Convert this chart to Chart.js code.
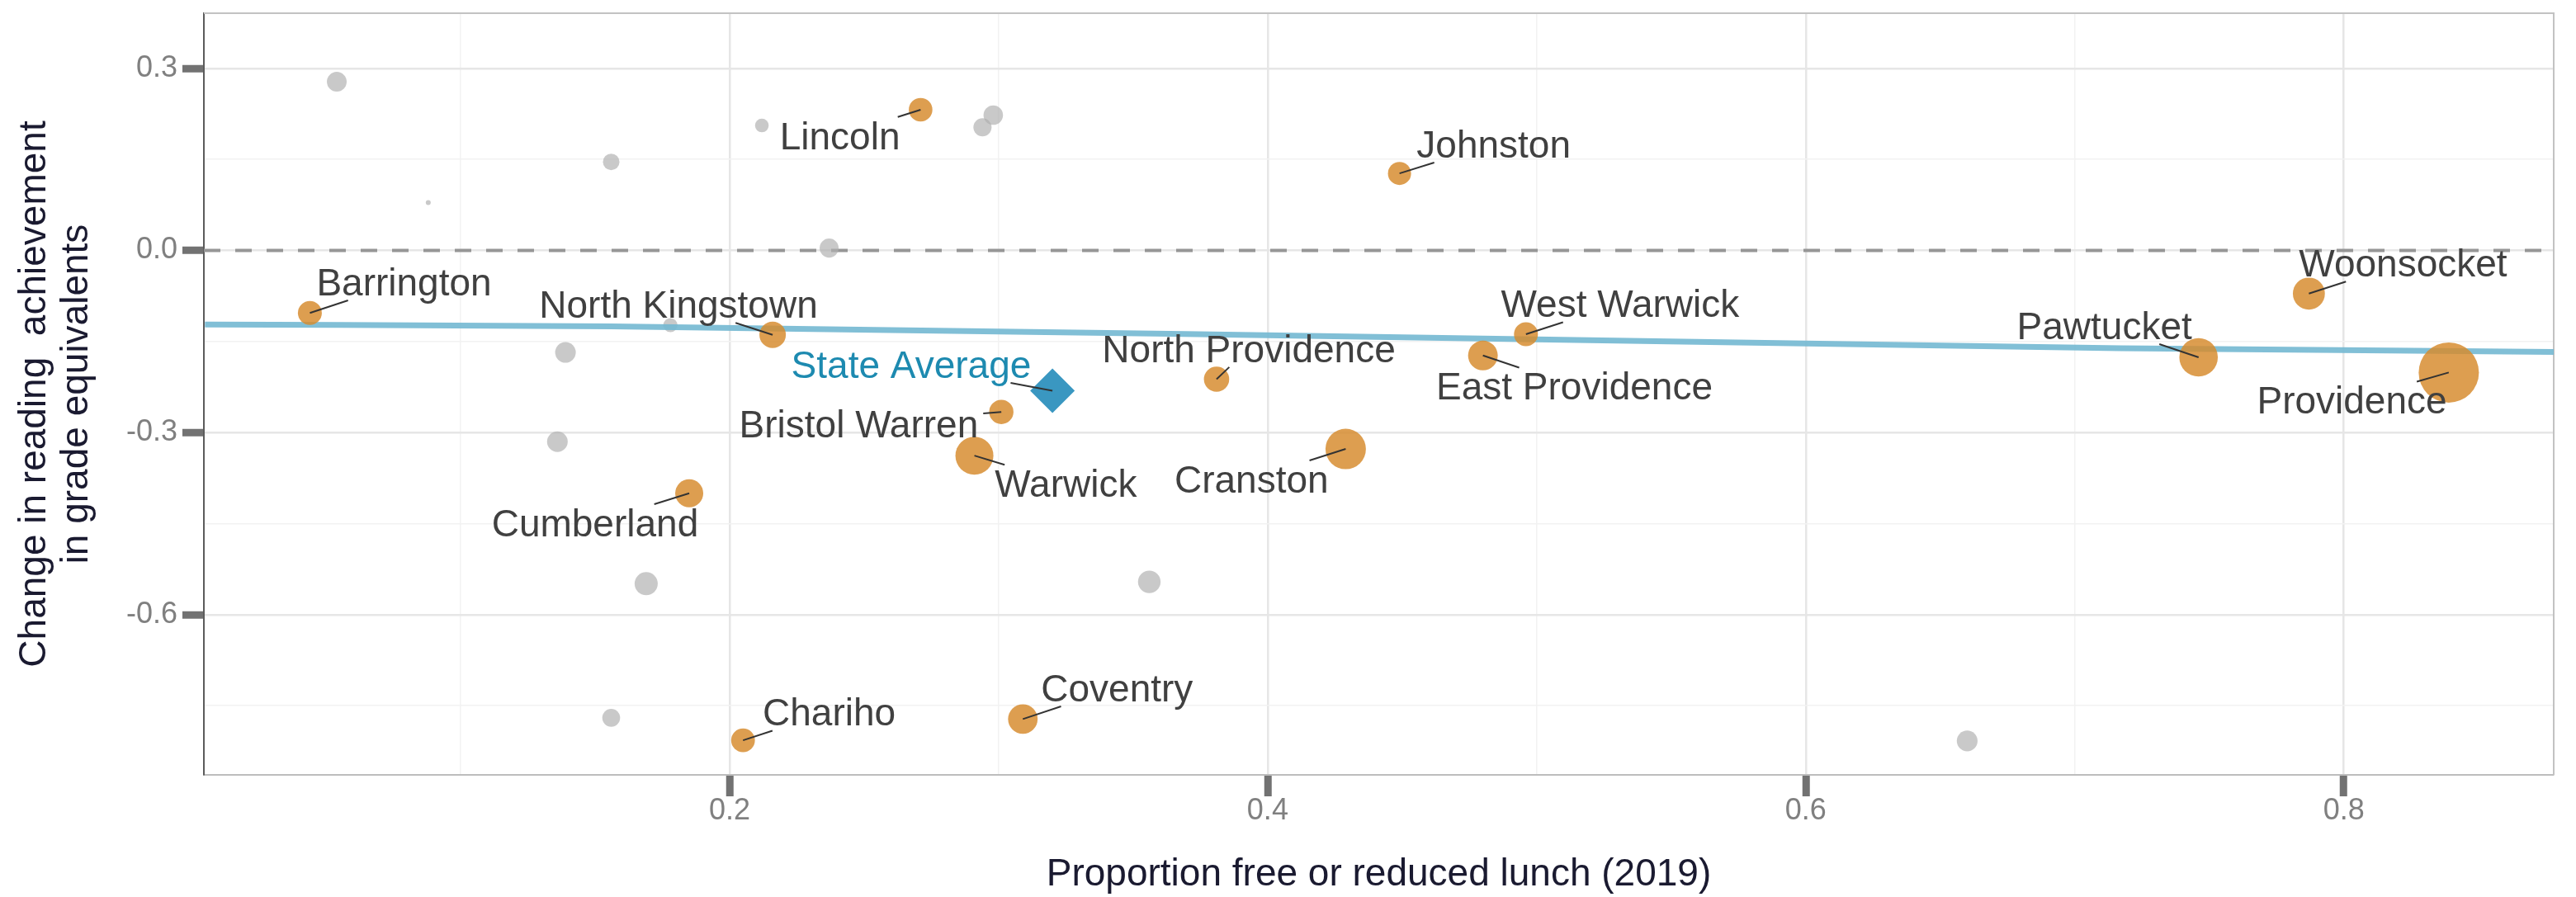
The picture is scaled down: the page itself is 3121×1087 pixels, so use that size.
<!DOCTYPE html>
<html>
<head>
<meta charset="utf-8">
<script src="https://cdn.jsdelivr.net/npm/chart.js@4.4.1/dist/chart.umd.min.js"></script>
<style>
  html, body { margin: 0; padding: 0; background: #fff; }
  canvas { display: block; }
</style>
</head>
<body>
<canvas id="chart" width="3121" height="1087"></canvas>
<script>
// Labelled districts
const districts = ['Barrington', 'Lincoln', 'Johnston', 'North Kingstown', 'North Providence',
  'Bristol Warren', 'Warwick', 'Cranston', 'Cumberland', 'Chariho', 'Coventry',
  'West Warwick', 'East Providence', 'Pawtucket', 'Woonsocket', 'Providence'];
const districtFrl = [0.044, 0.271, 0.449, 0.216, 0.381, 0.301, 0.291, 0.429, 0.185, 0.205, 0.309,
  0.496, 0.480, 0.746, 0.787, 0.839];
const districtChange = [-0.103, 0.232, 0.127, -0.139, -0.212, -0.266, -0.338, -0.327, -0.400, -0.807, -0.772,
  -0.138, -0.173, -0.176, -0.071, -0.201];
const districtStudents = [3360, 3270, 3140, 4100, 3750, 3460, 8460, 9600, 4620, 3320, 5130,
  3360, 5180, 8690, 6020, 21300];

// where the repelled labels sit (data units: text centre, baseline)
const labelFrl = [0.079, 0.241, 0.484, 0.181, 0.393, 0.248, 0.325, 0.394, 0.150, 0.237, 0.344,
  0.531, 0.514, 0.711, 0.822, 0.803];
const labelChange = [-0.074, 0.167, 0.153, -0.111, -0.184, -0.308, -0.406, -0.399, -0.471, -0.783, -0.743,
  -0.110, -0.246, -0.146, -0.043, -0.269];

// Other districts (grey, no label)
const otherFrl = [0.054, 0.156, 0.088, 0.139, 0.136, 0.169, 0.156, 0.212, 0.298, 0.294, 0.237, 0.178, 0.356, 0.660];
const otherChange = [0.278, 0.146, 0.079, -0.168, -0.315, -0.549, -0.770, 0.206, 0.223, 0.203, 0.004, -0.123, -0.546, -0.808];
const otherStudents = [2300, 1600, 144, 2500, 2500, 3140, 1870, 1100, 2230, 1940, 2120, 1180, 3000, 2540];

// State average
const stateName = 'State Average';
const stateFrl = 0.320;
const stateChange = -0.231;
const stateLabelFrl = 0.2675;
const stateLabelChange = -0.210;

// smoothed trend
const trendFrl = [0.005, 0.156, 0.45, 0.717, 0.878];
const trendChange = [-0.122, -0.125, -0.143, -0.161, -0.167];

// axes
const xRange = [0.0046, 0.878];
const yRange = [-0.864, 0.391];
const xTicks = [0.1, 0.2, 0.3, 0.4, 0.5, 0.6, 0.7, 0.8];
const xLabelled = [0.2, 0.4, 0.6, 0.8];
const yTicks = [-0.75, -0.6, -0.45, -0.3, -0.15, 0, 0.15, 0.3];
const yLabelled = [-0.6, -0.3, 0, 0.3];

const FONT = '"Liberation Sans", Arial, Helvetica, sans-serif';
Chart.defaults.font.family = FONT;

const radius = s => 0.25 * Math.sqrt(s);
const isMajor = (list, v) => list.some(t => Math.abs(t - v) < 1e-6);

const labelPlugin = {
  id: 'districtLabels',
  beforeDatasetsDraw(chart) {
    const { ctx, chartArea: a } = chart;
    ctx.save();
    ctx.strokeStyle = '#c2c2c2';
    ctx.lineWidth = 2;
    ctx.beginPath();
    ctx.moveTo(a.left, a.top);
    ctx.lineTo(a.right, a.top);
    ctx.lineTo(a.right, a.bottom);
    ctx.stroke();
    ctx.restore();
  },
  afterDatasetsDraw(chart) {
    const { ctx, scales: { x, y } } = chart;
    const size = 46;
    ctx.save();
    ctx.font = size + 'px ' + FONT;
    ctx.textAlign = 'center';
    ctx.textBaseline = 'alphabetic';

    const items = districts.map((name, i) => ({
      name, fx: districtFrl[i], fy: districtChange[i], lx: labelFrl[i], ly: labelChange[i], color: '#404040'
    }));
    items.push({ name: stateName, fx: stateFrl, fy: stateChange, lx: stateLabelFrl, ly: stateLabelChange, color: '#1d8ab0' });

    items.forEach(it => {
      const px = x.getPixelForValue(it.fx), py = y.getPixelForValue(it.fy);
      const tx = x.getPixelForValue(it.lx), ty = y.getPixelForValue(it.ly);
      const w = ctx.measureText(it.name).width;
      const pad = 6;
      const box = { l: tx - w / 2 - pad, r: tx + w / 2 + pad, t: ty - size * 0.716 - pad, b: ty + pad };
      const cx = (box.l + box.r) / 2, cy = (box.t + box.b) / 2;
      const dx = cx - px, dy = cy - py;
      const enter = (p, d, lo, hi) => {
        if (Math.abs(d) < 1e-9) return (p >= lo && p <= hi) ? -Infinity : Infinity;
        return Math.min((lo - p) / d, (hi - p) / d);
      };
      const t = Math.max(enter(px, dx, box.l, box.r), enter(py, dy, box.t, box.b));
      const len = t * Math.hypot(dx, dy);
      if (t > 0 && len > 19) {
        ctx.strokeStyle = '#333333';
        ctx.lineWidth = 2;
        ctx.beginPath();
        ctx.moveTo(px, py);
        ctx.lineTo(px + dx * t, py + dy * t);
        ctx.stroke();
      }
      ctx.fillStyle = it.color;
      ctx.fillText(it.name, tx, ty);
    });
    ctx.restore();
  }
};

new Chart(document.getElementById('chart'), {
  type: 'scatter',
  data: {
    datasets: [
      {
        type: 'line',
        data: [{ x: xRange[0], y: 0 }, { x: xRange[1], y: 0 }],
        borderColor: '#969696',
        borderWidth: 4,
        borderDash: [20, 18],
        pointRadius: 0,
        order: 5
      },
      {
        type: 'bubble',
        data: otherFrl.map((v, i) => ({ x: v, y: otherChange[i], r: radius(otherStudents[i]) })),
        backgroundColor: 'rgba(175, 175, 175, 0.68)',
        borderWidth: 0,
        order: 4
      },
      {
        type: 'line',
        data: trendFrl.map((v, i) => ({ x: v, y: trendChange[i] })),
        borderColor: 'rgba(118, 186, 211, 0.92)',
        borderWidth: 7,
        pointRadius: 0,
        cubicInterpolationMode: 'monotone',
        order: 3
      },
      {
        type: 'bubble',
        data: districtFrl.map((v, i) => ({ x: v, y: districtChange[i], r: radius(districtStudents[i]) })),
        backgroundColor: 'rgba(214, 140, 46, 0.84)',
        borderWidth: 0,
        order: 2
      },
      {
        type: 'scatter',
        data: [{ x: stateFrl, y: stateChange }],
        pointStyle: 'rectRot',
        pointRadius: 27,
        backgroundColor: '#3a97c1',
        borderWidth: 0,
        order: 1
      }
    ]
  },
  options: {
    responsive: false,
    devicePixelRatio: 1,
    animation: false,
    events: [],
    layout: { autoPadding: false, padding: { left: 0, right: 27, top: 16, bottom: 0 } },
    plugins: { legend: { display: false }, tooltip: { enabled: false } },
    scales: {
      x: {
        type: 'linear',
        position: 'bottom',
        min: xRange[0],
        max: xRange[1],
        afterBuildTicks: s => { s.ticks = xTicks.map(v => ({ value: v })); },
        afterFit: s => { s.height = 148; s.paddingLeft = 0; s.paddingRight = 0; },
        grid: {
          color: c => isMajor(xLabelled, c.tick.value) ? '#e6e6e6' : '#f2f2f2',
          lineWidth: c => isMajor(xLabelled, c.tick.value) ? 2.5 : 1.5,
          tickLength: 26,
          tickWidth: 9,
          tickColor: c => isMajor(xLabelled, c.tick.value) ? '#727272' : 'rgba(0,0,0,0)'
        },
        border: { color: '#bdbdbd', width: 2 },
        ticks: {
          autoSkip: false,
          maxRotation: 0,
          padding: 0,
          color: '#808080',
          font: { size: 36, lineHeight: 1 },
          callback: v => isMajor(xLabelled, v) ? v.toFixed(1) : ''
        },
        title: {
          display: true,
          text: 'Proportion free or reduced lunch (2019)',
          color: '#1a1a30',
          font: { size: 46, lineHeight: 1.1 },
          padding: { top: 0, bottom: 1 }
        }
      },
      y: {
        type: 'linear',
        min: yRange[0],
        max: yRange[1],
        afterBuildTicks: s => { s.ticks = yTicks.map(v => ({ value: v })); },
        afterFit: s => { s.width = 247; s.paddingTop = 0; s.paddingBottom = 0; },
        grid: {
          color: c => isMajor(yLabelled, c.tick.value) ? '#e6e6e6' : '#f2f2f2',
          lineWidth: c => isMajor(yLabelled, c.tick.value) ? 2.5 : 1.5,
          tickLength: 26,
          tickWidth: 9,
          tickColor: c => isMajor(yLabelled, c.tick.value) ? '#727272' : 'rgba(0,0,0,0)'
        },
        border: { color: '#5c5c5c', width: 2 },
        ticks: {
          autoSkip: false,
          padding: 6,
          color: '#808080',
          font: { size: 36, lineHeight: 1 },
          callback: v => isMajor(yLabelled, v) ? v.toFixed(1) : ''
        },
        title: {
          display: true,
          text: ['Change in reading  achievement', 'in grade equivalents'],
          color: '#1a1a30',
          font: { size: 46, lineHeight: 1.1 },
          padding: { top: 17, bottom: 0 }
        }
      }
    }
  },
  plugins: [labelPlugin]
});
</script>
</body>
</html>
